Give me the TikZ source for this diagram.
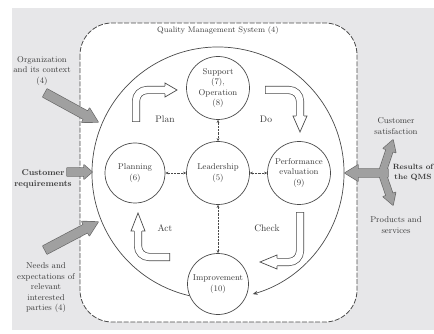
\documentclass[tikz,border=0pt]{standalone}
\usetikzlibrary{arrows.meta,calc}
\definecolor{bgc}{HTML}{E7E7E9}
\definecolor{txtc}{HTML}{3C3C3C}
\definecolor{linec}{HTML}{4A4A4A}
\definecolor{agray}{HTML}{A0A0A0}
\definecolor{aline}{HTML}{666666}
% gray block arrow: #1 style, #2 start, #3 end, #4 shaft half width, #5 head half width, #6 head length
\newcommand{\garrowpoly}[6]{%
  \coordinate (ga) at #2; \coordinate (gb) at #3;
  \coordinate (gh) at ($(gb)!#6!(ga)$);
  \path[#1] ($(ga)!#4!90:(gb)$) -- ($(gh)!#4!90:(gb)$) -- ($(gh)!#5!90:(gb)$) -- (gb)
    -- ($(gh)!#5!-90:(gb)$) -- ($(gh)!#4!-90:(gb)$) -- ($(ga)!#4!-90:(gb)$) -- cycle;}
\begin{document}
\begin{tikzpicture}[x=1pt,y=-1pt,
  txt/.style={text=txtc, font=\fontsize{8.5}{10.5}\selectfont, align=center, inner sep=0pt},
  lbl/.style={text=txtc, font=\fontsize{9.5}{11}\selectfont, inner sep=0pt},
  cnode/.style={circle, draw=linec, fill=white, line width=0.7pt, minimum size=63pt, inner sep=0pt,
    align=center, text=txtc, font=\fontsize{8.5}{10.5}\selectfont},
  conn/.style={linec, densely dotted, line width=0.45pt,
    {Stealth[length=3pt,width=2.6pt]}-{Stealth[length=3pt,width=2.6pt]}},
  hshaft/.style={line width=8pt, draw=linec, rounded corners=11pt},
  hshaftin/.style={line width=6.6pt, draw=white, rounded corners=11pt, shorten <=0.7pt},
  hhead/.style={linec, line width=0.7pt, line join=miter},
  gout/.style={draw=aline, line width=1.3pt, line join=round},
  gin/.style={fill=agray},
  qms/.style={draw=linec, fill=white, line width=0.8pt, dash pattern=on 5pt off 1.6pt, rounded corners=32pt}]
\useasboundingbox (0,0) rectangle (434,334);
\clip (0,0) rectangle (434,334);
\fill[bgc] (12,8) rectangle (434,330);
\path[qms] (80,23) rectangle (357,322);
\node[txt, font=\fontsize{8}{10}\selectfont] (title) at (218,31) {Quality Management System (4)};

% big cycle
\coordinate (cc) at (218,173);
\draw[linec, line width=0.7pt, -{Stealth[length=5pt,width=4pt]}] (cc) ++(103:126) arc[start angle=103, end angle=434, radius=126];

% circles
\node[cnode] (sup) at (218,88) {Support\\(7),\\Operation\\(8)};
\node[cnode] (lead) at (218,173) {Leadership\\(5)};
\node[cnode, minimum size=60pt] (plan) at (135,173) {Planning\\(6)};
\node[cnode] (perf) at (299,173) {Performance\\evaluation\\(9)};
\node[cnode, minimum size=61pt] (imp) at (218,284) {Improvement\\(10)};

\draw[conn] (lead) -- (sup);
\draw[conn] (lead) -- (plan);
\draw[conn] (lead) -- (perf);
\draw[conn] (lead) -- (imp);

% hollow PDCA arrows
\draw[hshaft] (136,122) -- (136,90) -- (166,90);
\draw[hshaftin] (136,122) -- (136,90) -- (166,90);
\fill[white] (165,83) -- (177,90) -- (165,97) -- cycle;
\draw[hhead] (165,86) -- (165,83) -- (177,90) -- (165,97) -- (165,94);

\draw[hshaft] (265,90) -- (300,90) -- (300,117);
\draw[hshaftin] (265,90) -- (300,90) -- (300,117);
\fill[white] (293,116) -- (300,132) -- (307,116) -- cycle;
\draw[hhead] (296,116) -- (293,116) -- (300,132) -- (307,116) -- (304,116);

\draw[hshaft] (300,212) -- (300,262) -- (276,262);
\draw[hshaftin] (300,212) -- (300,262) -- (276,262);
\fill[white] (277,255) -- (260,262) -- (277,269) -- cycle;
\draw[hhead] (277,258) -- (277,255) -- (260,262) -- (277,269) -- (277,266);

\draw[hshaft] (170,257) -- (138,257) -- (138,230);
\draw[hshaftin] (170,257) -- (138,257) -- (138,230);
\fill[white] (131,231) -- (138,213) -- (145,231) -- cycle;
\draw[hhead] (134,231) -- (131,231) -- (138,213) -- (145,231) -- (142,231);

\node[lbl] (lplan) at (165,119) {Plan};
\node[lbl] (ldo) at (266,119) {Do};
\node[lbl] (lact) at (165,228) {Act};
\node[lbl] (lcheck) at (267,228) {Check};

% left inputs
\node[txt] (org) at (42,71) {Organization\\and its context\\(4)};
\node[txt, font=\bfseries\fontsize{8.5}{10.5}\selectfont] (creq) at (43,179) {Customer\\requirements};
\node[txt] (needs) at (46,288) {Needs and\\expectations of\\relevant\\interested\\parties (4)};

\garrowpoly{gout}{(45,93)}{(98,122)}{4.5pt}{8pt}{14pt}
\garrowpoly{gin}{(45,93)}{(98,122)}{4.5pt}{8pt}{14pt}
\garrowpoly{gout}{(67,172)}{(92,172)}{4pt}{7pt}{8pt}
\garrowpoly{gin}{(67,172)}{(92,172)}{4pt}{7pt}{8pt}
\garrowpoly{gout}{(45,250)}{(98,222)}{4.5pt}{8pt}{14pt}
\garrowpoly{gin}{(45,250)}{(98,222)}{4.5pt}{8pt}{14pt}

% right outputs
\garrowpoly{gout}{(388,173)}{(345,173)}{4pt}{8pt}{13pt}
\garrowpoly{gout}{(382,173)}{(393,140)}{3.5pt}{6.5pt}{11pt}
\garrowpoly{gout}{(382,173)}{(393,205)}{3.5pt}{6.5pt}{11pt}
\garrowpoly{gin}{(388,173)}{(345,173)}{4pt}{8pt}{13pt}
\garrowpoly{gin}{(382,173)}{(393,140)}{3.5pt}{6.5pt}{11pt}
\garrowpoly{gin}{(382,173)}{(393,205)}{3.5pt}{6.5pt}{11pt}

\node[txt] (csat) at (396,126) {Customer\\satisfaction};
\node[txt, anchor=east, font=\bfseries\fontsize{7.6}{10}\selectfont] (res) at (433.5,173) {Results of\\the QMS};
\node[txt] (prod) at (396,225) {Products and\\services};
\end{tikzpicture}
\end{document}
